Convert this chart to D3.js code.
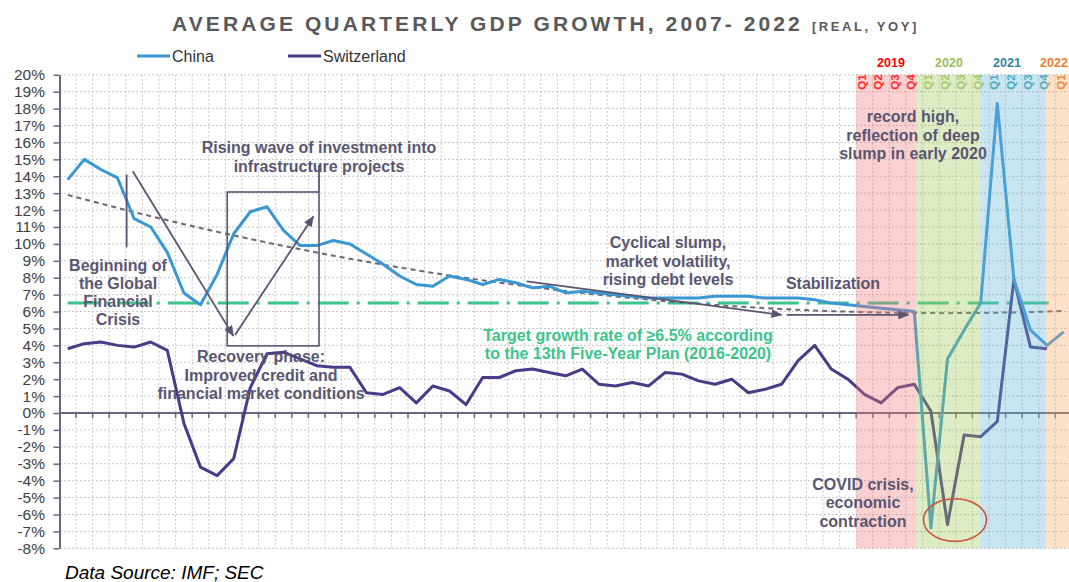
<!DOCTYPE html>
<html>
<head>
<meta charset="utf-8">
<script src="https://cdn.jsdelivr.net/npm/d3@7"></script>
<style>
  body { margin: 0; background: #fff; }
  svg { display: block; font-family: Arial, "Liberation Sans", sans-serif; }
</style>
</head>
<body>
<svg width="1069" height="582"></svg>
<script>
// ---- data ----
var years = [2007, 2008, 2009, 2010, 2011, 2012, 2013, 2014, 2015, 2016, 2017, 2018, 2019, 2020, 2021, 2022];
var qNames = ["Q1", "Q2", "Q3", "Q4"];
var quarters = [];
years.forEach(function(y) { qNames.forEach(function(q) { quarters.push(y + " " + q); }); });
quarters = quarters.slice(0, 61); // 2007 Q1 .. 2022 Q1

var china = [13.8, 15.0, 14.4, 13.9,  11.5, 11.0, 9.5, 7.1,  6.4, 8.2, 10.6, 11.9,
             12.2, 10.8, 9.9, 9.9,    10.2, 10.0, 9.4, 8.8,  8.1, 7.6, 7.5, 8.1,
             7.9, 7.6, 7.9, 7.7,      7.4, 7.5, 7.1, 7.2,    7.1, 7.0, 6.9, 6.8,
             6.8, 6.8, 6.8, 6.9,      6.9, 6.9, 6.8, 6.8,    6.8, 6.7, 6.5, 6.4,
             6.3, 6.2, 6.1, 6.0,      -6.8, 3.2, 4.9, 6.5,   18.3, 7.9, 4.9, 4.0,
             4.8];

var swiss = [3.8, 4.1, 4.2, 4.0,  3.9, 4.2, 3.7, -0.6,  -3.2, -3.7, -2.7, 1.5,
             3.5, 3.6, 3.2, 2.8,  2.7, 2.7, 1.2, 1.1,   1.5, 0.6, 1.6, 1.3,
             0.5, 2.1, 2.1, 2.5,  2.6, 2.4, 2.2, 2.6,   1.7, 1.6, 1.8, 1.6,
             2.4, 2.3, 1.9, 1.7,  2.0, 1.2, 1.4, 1.7,   3.1, 4.0, 2.6, 2.0,
             1.1, 0.6, 1.5, 1.7,  0.1, -6.6, -1.3, -1.4, -0.5, 7.9, 3.9, 3.8];

var targetRate = 6.5;
var yTicks = d3.range(-8, 21);
var hlYears = [2019, 2020, 2021, 2022];
var hlText = ["#ff0000", "#9bbb59", "#31859c", "#ed7d31"];
var hlQText = ["#ff2a2a", "#a9c96a", "#4bacc6", "#f08a40"];
var hlFill = ["#f07878", "#a0c85a", "#64b4d7", "#faaa64"];
// shading was hand drawn, a bit left of the quarter grid (in quarters)
var hlShift = [0, -0.38, -0.52, -0.56];
var yearLabelX = [891, 949, 1007, 1054];

var chinaColor = "#3b97d3", swissColor = "#4a3a87", annColor = "#5a5672", greenColor = "#3cc48c";

// ---- setup ----
var svg = d3.select("svg");
var W = 1069;
var x = d3.scaleBand().domain(quarters).range([59.4, 59.4 + 61 * 16.6]).padding(0);
var cx = function(q) { return x(q) + x.bandwidth() / 2; };
var xq = d3.scaleLinear().domain([0, 1]).range([cx(quarters[0]), cx(quarters[0]) + x.step()]);
var y = d3.scaleLinear().domain([-8, 20]).range([548.3, 74.8]);

var defs = svg.append("defs");
defs.append("marker").attr("id", "arr")
  .attr("markerUnits", "userSpaceOnUse").attr("markerWidth", 11).attr("markerHeight", 9)
  .attr("refX", 10).attr("refY", 4.5).attr("orient", "auto")
  .append("path").attr("d", "M0,0 L11,4.5 L0,9 z").attr("fill", annColor);

// grid
var grid = svg.append("g");
grid.selectAll("line.h").data(yTicks).enter().append("line")
  .attr("x1", 60).attr("x2", W).attr("y1", function(d) { return y(d); }).attr("y2", function(d) { return y(d); })
  .attr("stroke", "#c6c6c6").attr("stroke-dasharray", "2,2");
var bounds = quarters.slice(1).map(function(q) { return x(q); });
grid.selectAll("line.v").data(bounds).enter().append("line")
  .attr("x1", function(d) { return d; }).attr("x2", function(d) { return d; })
  .attr("y1", y(20)).attr("y2", y(-8))
  .attr("stroke", "#c6c6c6").attr("stroke-dasharray", "2,2");

// y axis
var yAxis = svg.append("g").attr("transform", "translate(59.5,0)")
  .call(d3.axisLeft(y).tickValues(yTicks).tickFormat(function(d) { return d + "%"; })
    .tickSize(6).tickPadding(8.5).tickSizeOuter(0));
yAxis.select(".domain").attr("stroke", "#6b6680").attr("stroke-width", 2);
yAxis.selectAll(".tick line").attr("stroke", "#6b6680").attr("stroke-width", 1.5);
yAxis.selectAll(".tick text").attr("fill", "#404040").style("font-size", "15.5px")
  .style("font-family", "Arial, 'Liberation Sans', sans-serif");

// zero axis
svg.append("line").attr("x1", 59).attr("x2", W).attr("y1", y(0)).attr("y2", y(0))
  .attr("stroke", "#6b6680").attr("stroke-width", 2);
svg.append("g").selectAll("line").data(bounds).enter().append("line")
  .attr("x1", function(d) { return d; }).attr("x2", function(d) { return d; })
  .attr("y1", y(0)).attr("y2", y(0) + 5)
  .attr("stroke", "#6b6680").attr("stroke-width", 1.5);

// target line
svg.append("line")
  .attr("x1", xq(0)).attr("x2", xq(59.3))
  .attr("y1", y(targetRate)).attr("y2", y(targetRate))
  .attr("stroke", greenColor).attr("stroke-width", 3)
  .attr("stroke-dasharray", "31,8,3,8");

// polynomial (order 2) trend of China
function quadFit(vals) {
  var S = [0, 0, 0, 0, 0], T = [0, 0, 0];
  vals.forEach(function(v, i) {
    for (var k = 0; k < 5; k++) S[k] += Math.pow(i, k);
    for (k = 0; k < 3; k++) T[k] += v * Math.pow(i, k);
  });
  var M = [[S[0], S[1], S[2]], [S[1], S[2], S[3]], [S[2], S[3], S[4]]];
  function det(m) {
    return m[0][0] * (m[1][1] * m[2][2] - m[1][2] * m[2][1])
         - m[0][1] * (m[1][0] * m[2][2] - m[1][2] * m[2][0])
         + m[0][2] * (m[1][0] * m[2][1] - m[1][1] * m[2][0]);
  }
  var D = det(M), c = [];
  for (var j = 0; j < 3; j++) {
    var mj = M.map(function(r, ri) { return r.map(function(v, ci) { return ci === j ? T[ri] : v; }); });
    c.push(det(mj) / D);
  }
  return vals.map(function(v, i) { return c[0] + c[1] * i + c[2] * i * i; });
}
var trend = quadFit(china);

var line = d3.line()
  .x(function(d, i) { return cx(quarters[i]); })
  .y(function(d) { return y(d); });

svg.append("path").datum(trend).attr("d", line)
  .attr("fill", "none").attr("stroke", "#6a6878").attr("stroke-width", 2).attr("stroke-dasharray", "5,4");

svg.append("path").datum(swiss).attr("d", line)
  .attr("fill", "none").attr("stroke", swissColor).attr("stroke-width", 3).attr("stroke-linejoin", "round");
svg.append("path").datum(china).attr("d", line)
  .attr("fill", "none").attr("stroke", chinaColor).attr("stroke-width", 3).attr("stroke-linejoin", "round");

// highlight shading (drawn over the lines)
hlYears.forEach(function(yr, k) {
  var x0 = x(yr + " Q1") + hlShift[k] * x.step();
  var x1 = k + 1 < hlYears.length ? x((yr + 1) + " Q1") + hlShift[k + 1] * x.step() : W;
  svg.append("rect").attr("x", x0).attr("y", y(20)).attr("width", x1 - x0).attr("height", y(-8) - y(20))
    .attr("fill", hlFill[k]).attr("fill-opacity", 0.35);
  svg.append("text").attr("x", yearLabelX[k]).attr("y", 66.5).attr("text-anchor", "middle")
    .attr("fill", hlText[k]).style("font-size", "12.5px").style("font-weight", "bold").text(yr);
  qNames.forEach(function(qn) {
    var key = yr + " " + qn;
    if (quarters.indexOf(key) < 0) return;
    svg.append("text")
      .attr("transform", "translate(" + (cx(key) - 3) + ",82) rotate(-90)")
      .attr("text-anchor", "middle").attr("dy", "0.35em")
      .attr("fill", hlQText[k]).style("font-size", "11.5px").style("font-weight", "bold").text(qn);
  });
});

// annotation shapes
function seg(a, b, arrow) {
  var l = svg.append("line")
    .attr("x1", xq(a[0])).attr("y1", y(a[1])).attr("x2", xq(b[0])).attr("y2", y(b[1]))
    .attr("stroke", annColor).attr("stroke-width", 1.8);
  if (arrow) l.attr("marker-end", "url(#arr)");
}
seg([3.55, 14.1], [3.55, 9.8], false);
seg([3.92, 14.3], [9.98, 4.56], true);
svg.append("rect")
  .attr("x", xq(9.61)).attr("y", y(13.07)).attr("width", xq(15.14) - xq(9.61)).attr("height", y(3.97) - y(13.07))
  .attr("fill", "none").attr("stroke", annColor).attr("stroke-width", 1.6);
seg([15.14, 14.68], [15.14, 13.07], false);
seg([10.08, 4.62], [14.8, 11.62], true);
seg([27.65, 7.78], [43.0, 5.8], true);
seg([43.31, 5.8], [50.64, 5.8], true);

svg.append("ellipse").attr("cx", xq(53.45)).attr("cy", y(-6.33)).attr("rx", 31.5).attr("ry", 21.3)
  .attr("fill", "none").attr("stroke", "#c8553d").attr("stroke-width", 1.6);

// annotation texts
function block(lines, xc, y0, dy, color) {
  var t = svg.append("text").attr("text-anchor", "middle").attr("fill", color || annColor)
    .style("font-size", "16px").style("font-weight", "bold");
  lines.forEach(function(s, i) {
    t.append("tspan").attr("x", xc).attr("y", y0 + i * dy).text(s);
  });
}
block(["Rising wave of investment into", "infrastructure projects"], 319, 153, 19);
block(["Beginning of", "the Global", "Financial", "Crisis"], 118, 271, 18);
block(["Recovery phase:", "Improved credit and", "financial market conditions"], 261, 362, 18.7);
block(["Cyclical slump,", "market volatility,", "rising debt levels"], 668, 248, 18.5);
block(["Stabilization"], 833, 288.5, 18);
block(["record high,", "reflection of deep", "slump in early 2020"], 913, 122, 18.7);
block(["COVID crisis,", "economic", "contraction"], 863, 489.5, 18.7);
block(["Target growth rate of \u22656.5% according", "to the 13th Five-Year Plan (2016-2020)"], 628, 340.5, 18.5, greenColor);

// title
var title = svg.append("text").attr("x", 172).attr("y", 31).attr("fill", "#595959")
  .style("font-weight", "bold");
title.append("tspan").style("font-size", "21px").style("letter-spacing", "3.1px")
  .text("AVERAGE QUARTERLY GDP GROWTH, 2007- 2022");
title.append("tspan").attr("dx", 9).style("font-size", "13px").style("letter-spacing", "2.6px")
  .text("[REAL, YOY]");

// legend
var legend = [["China", chinaColor, 137], ["Switzerland", swissColor, 288]];
legend.forEach(function(l) {
  svg.append("line").attr("x1", l[2]).attr("x2", l[2] + 33).attr("y1", 56).attr("y2", 56)
    .attr("stroke", l[1]).attr("stroke-width", 3);
  svg.append("text").attr("x", l[2] + 35).attr("y", 61.5).attr("fill", "#333")
    .style("font-size", "16px").text(l[0]);
});

// source
svg.append("text").attr("x", 65).attr("y", 579).attr("fill", "#000")
  .style("font-size", "19px").style("font-style", "italic").text("Data Source: IMF; SEC");
</script>
</body>
</html>
